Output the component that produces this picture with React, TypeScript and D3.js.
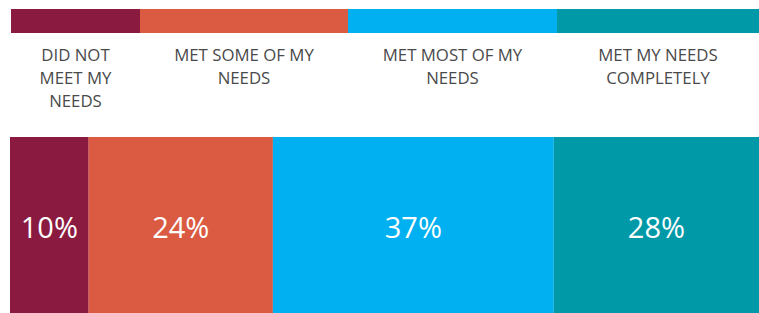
import { useEffect, useRef } from 'react';
import * as d3 from 'd3';

// categories, as they wrap in the legend
const categories = [
  ['DID NOT', 'MEET MY', 'NEEDS'],
  ['MET SOME OF MY', 'NEEDS'],
  ['MET MOST OF MY', 'NEEDS'],
  ['MET MY NEEDS', 'COMPLETELY'],
];
// bar widths (share of respondents)
const shares = [10.5, 24.6, 37.5, 27.4];
const shareLabels = ['10%', '24%', '37%', '28%'];
// relative width of each legend column
const legendWeights = [129, 208, 209, 202];
const colors = ['#8A1A3F', '#DA5A42', '#00B0F0', '#0099A7'];

export default function App() {
  const svgRef = useRef<SVGSVGElement>(null);

  useEffect(() => {
    if (!svgRef.current) return;

    const width = 759;
    const height = 313;

    d3.select(svgRef.current).selectAll('*').remove();

    const svg = d3
      .select(svgRef.current)
      .attr('width', width)
      .attr('height', height)
      .attr('viewBox', `0 0 ${width} ${height}`);

    // Legend strip with labels underneath
    const legendEdges = d3.cumsum([0, ...legendWeights]);
    const lx = d3
      .scaleLinear()
      .domain([0, d3.sum(legendWeights)])
      .range([11, width]);

    const legend = svg
      .selectAll('g.legend')
      .data(categories)
      .enter()
      .append('g')
      .attr('class', 'legend');

    legend
      .append('rect')
      .attr('x', (_, i) => lx(legendEdges[i]))
      .attr('y', 9)
      .attr('width', (_, i) => lx(legendEdges[i + 1]) - lx(legendEdges[i]))
      .attr('height', 24)
      .attr('fill', (_, i) => colors[i]);

    legend
      .append('text')
      .attr('text-anchor', 'middle')
      .attr('fill', '#4a4a4a')
      .attr('font-family', '"Open Sans", sans-serif')
      .attr('font-size', '16.8px')
      .each(function (lines, i) {
        const cx = (lx(legendEdges[i]) + lx(legendEdges[i + 1])) / 2;
        d3.select(this)
          .selectAll('tspan')
          .data(lines)
          .enter()
          .append('tspan')
          .attr('x', cx)
          .attr('y', (_, j) => 61 + j * 23)
          .text((d) => d);
      });

    // Main stacked bar
    const edges = d3.cumsum([0, ...shares]);
    const x = d3
      .scaleLinear()
      .domain([0, d3.sum(shares)])
      .range([10, width]);

    const top = 137;
    const bottom = height;

    const segs = svg
      .selectAll('g.seg')
      .data(shares)
      .enter()
      .append('g')
      .attr('class', 'seg');

    segs
      .append('rect')
      .attr('x', (_, i) => x(edges[i]))
      .attr('y', top)
      .attr('width', (_, i) => x(edges[i + 1]) - x(edges[i]))
      .attr('height', bottom - top)
      .attr('fill', (_, i) => colors[i]);

    segs
      .append('text')
      .attr('x', (_, i) => (x(edges[i]) + x(edges[i + 1])) / 2)
      .attr('y', 238)
      .attr('text-anchor', 'middle')
      .attr('fill', '#fff')
      .attr('font-family', '"Open Sans", sans-serif')
      .attr('font-size', '29px')
      .text((_, i) => shareLabels[i]);
  }, []);

  return (
    <svg
      ref={svgRef}
      style={{ position: 'absolute', left: 0, top: 0, display: 'block' }}
    />
  );
}
